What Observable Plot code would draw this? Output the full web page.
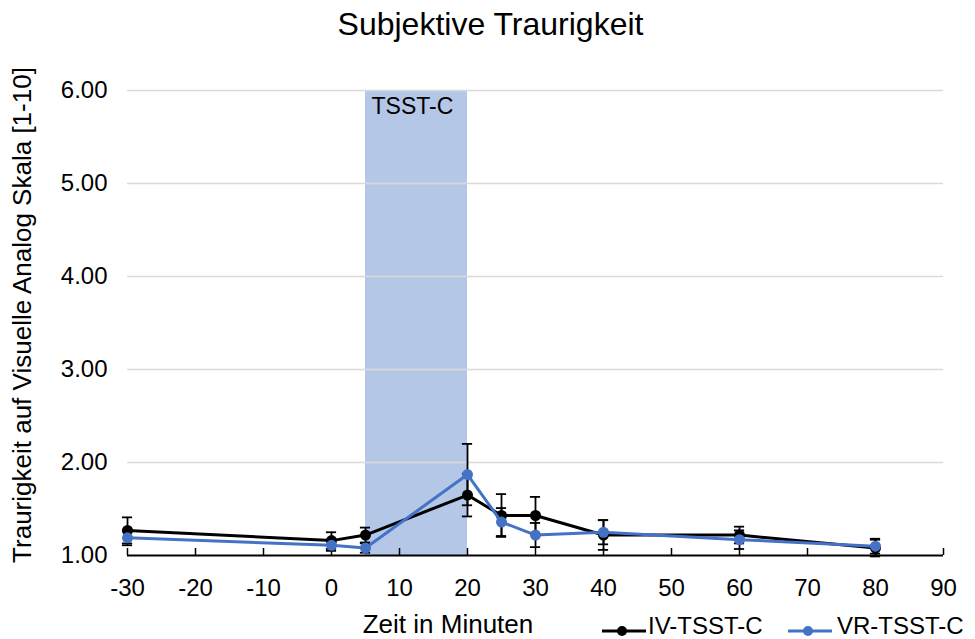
<!DOCTYPE html>
<html>
<head>
<meta charset="utf-8">
<script src="https://cdn.jsdelivr.net/npm/d3@7"></script>
<script src="https://cdn.jsdelivr.net/npm/@observablehq/plot@0.6"></script>
<style>
  body { margin: 0; background: #fff; font-family: "Liberation Sans", Arial, sans-serif; }
  #wrap { position: relative; width: 975px; height: 639px; overflow: hidden; }
  #title { position: absolute; left: 3px; width: 975px; top: 8px; text-align: center; font-size: 32px; line-height: 1; color: #000; }
  #chart { position: absolute; left: 0; top: 50px; }
  #ylab { position: absolute; left: 22px; top: 315px; transform: translate(-50%, -50%) rotate(-90deg); white-space: nowrap; font-size: 26px; line-height: 1; color: #000; }
  #xlab { position: absolute; left: 448px; top: 611px; transform: translateX(-50%); font-size: 26px; line-height: 1; white-space: nowrap; color: #000; }
  .ltext { position: absolute; top: 614px; font-size: 24px; line-height: 1; white-space: nowrap; color: #000; }
  .lsym { position: absolute; top: 624px; }
</style>
</head>
<body>
<div id="wrap">
  <div id="title">Subjektive Traurigkeit</div>
  <div id="chart"></div>
  <div id="ylab">Traurigkeit auf Visuelle Analog Skala [1-10]</div>
  <div id="xlab">Zeit in Minuten</div>
</div>
<script>
const times = [-30, 0, 5, 20, 25, 30, 40, 60, 80];
const ivValues = [1.27, 1.16, 1.22, 1.65, 1.43, 1.43, 1.22, 1.22, 1.08];
const ivErrors = [0.14, 0.09, 0.08, 0.23, 0.23, 0.20, 0.16, 0.09, 0.09];
const vrValues = [1.19, 1.11, 1.08, 1.87, 1.36, 1.22, 1.25, 1.17, 1.10];
const vrErrors = [0.08, 0.06, 0.05, 0.33, 0.15, 0.13, 0.13, 0.10, 0.08];
const seriesNames = ["IV-TSST-C", "VR-TSST-C"];
const seriesColors = ["#000000", "#4472C4"];
const xTicks = [-30, -20, -10, 0, 10, 20, 30, 40, 50, 60, 70, 80, 90];
const yTicks = [1, 2, 3, 4, 5, 6];
const phase = [{label: "TSST-C", start: 5, end: 20}];

const iv = times.map((t, i) => ({t, v: ivValues[i], e: ivErrors[i], s: seriesNames[0]}));
const vr = times.map((t, i) => ({t, v: vrValues[i], e: vrErrors[i], s: seriesNames[1]}));
const all = iv.concat(vr);
const capHalf = 0.75;

const plot = Plot.plot({
  width: 975,
  height: 589,
  marginLeft: 127,
  marginRight: 32,
  marginTop: 40,
  marginBottom: 84,
  style: {fontFamily: "'Liberation Sans', Arial, sans-serif", fontSize: "24px", color: "#000", background: "#fff"},
  x: {domain: [-30, 90]},
  y: {domain: [1, 6]},
  marks: [
    Plot.rect(phase, {x1: "start", x2: "end", y1: 1, y2: 6, fill: "#b4c7e7"}),
    Plot.ruleY(yTicks.filter(d => d > 1), {stroke: "#d9d9d9", strokeWidth: 1.5}),
    Plot.text(phase, {x: "start", y: 6, text: "label", textAnchor: "start", lineAnchor: "top", dx: 6, dy: 7, fontSize: 23, fill: "#000"}),
    Plot.axisY({ticks: yTicks, tickFormat: d3.format(".2f"), tickSize: 0, tickPadding: 20, label: null, fontSize: 24}),
    Plot.axisX({ticks: xTicks, tickSize: 7, dy: -7, text: null, label: null, stroke: "#000", strokeWidth: 1.5}),
    Plot.axisX({ticks: xTicks, tickSize: 0, tickPadding: 23, label: null, fontSize: 24, tickFormat: d => String(d)}),
    Plot.ruleY([1], {stroke: "#000", strokeWidth: 2}),
    // error bars
    Plot.ruleX(all, {x: "t", y1: d => d.v - d.e, y2: d => d.v + d.e, stroke: "#000", strokeWidth: 1.8}),
    Plot.ruleY(all, {y: d => d.v + d.e, x1: d => d.t - capHalf, x2: d => d.t + capHalf, stroke: "#000", strokeWidth: 1.8}),
    Plot.ruleY(all, {y: d => d.v - d.e, x1: d => d.t - capHalf, x2: d => d.t + capHalf, stroke: "#000", strokeWidth: 1.8}),
    Plot.line(iv, {x: "t", y: "v", stroke: seriesColors[0], strokeWidth: 3}),
    Plot.dot(iv, {x: "t", y: "v", r: 5.5, fill: seriesColors[0], stroke: "none"}),
    Plot.line(vr, {x: "t", y: "v", stroke: seriesColors[1], strokeWidth: 3}),
    Plot.dot(vr, {x: "t", y: "v", r: 5.5, fill: seriesColors[1], stroke: "none"})
  ]
});
document.getElementById("chart").appendChild(plot);

const wrap = document.getElementById("wrap");
const legendPos = [{sym: 602, text: 648}, {sym: 788, text: 837}];
seriesNames.forEach((name, i) => {
  const sym = document.createElement("div");
  sym.className = "lsym";
  sym.style.left = legendPos[i].sym + "px";
  sym.innerHTML = `<svg width="44" height="14" style="display:block"><line x1="0" y1="7" x2="44" y2="7" stroke="${seriesColors[i]}" stroke-width="3"/><circle cx="20" cy="7" r="5" fill="${seriesColors[i]}"/></svg>`;
  wrap.appendChild(sym);
  const txt = document.createElement("div");
  txt.className = "ltext";
  txt.style.left = legendPos[i].text + "px";
  txt.textContent = name;
  wrap.appendChild(txt);
});
</script>
</body>
</html>
